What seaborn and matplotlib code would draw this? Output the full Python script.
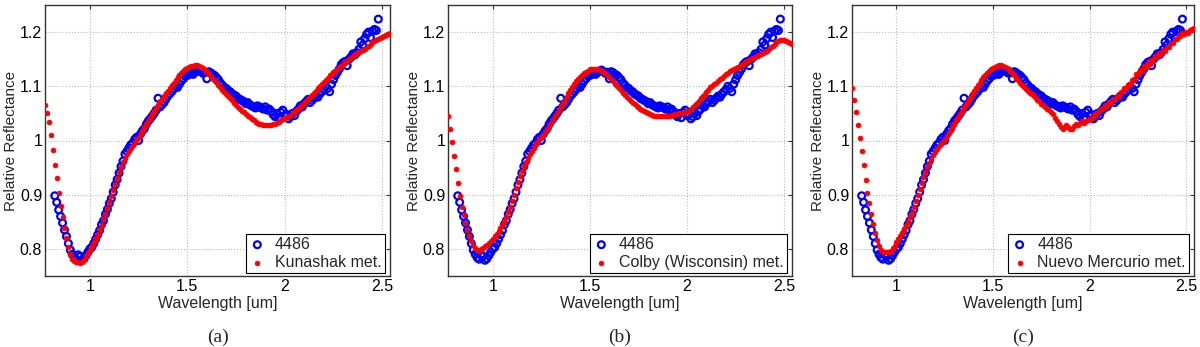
import matplotlib
matplotlib.use("Agg")
import matplotlib.pyplot as plt
from matplotlib.ticker import FuncFormatter
import numpy as np
import pandas as pd
import seaborn as sns

# Asteroid 4486 spectrum (common to all three panels)
wl_4486 = np.round(np.arange(0.82, 2.485, 0.01), 2)
refl_4486 = [
    0.898, 0.886, 0.872, 0.860, 0.848, 0.835, 0.823, 0.810, 0.798, 0.790,
    0.784, 0.781, 0.789, 0.786, 0.779, 0.782, 0.788, 0.794, 0.800, 0.803,
    0.810, 0.818, 0.826, 0.834, 0.845, 0.852, 0.864, 0.873, 0.884, 0.893,
    0.905, 0.918, 0.928, 0.940, 0.952, 0.962, 0.975, 0.980, 0.986, 0.992,
    0.995, 1.002, 1.006, 1.000, 1.012, 1.018, 1.022, 1.030, 1.036, 1.040,
    1.045, 1.050, 1.056, 1.078, 1.062, 1.066, 1.070, 1.076, 1.082, 1.086,
    1.090, 1.095, 1.100, 1.098, 1.104, 1.110, 1.114, 1.118, 1.120, 1.122,
    1.124, 1.122, 1.126, 1.128, 1.130, 1.127, 1.124, 1.126, 1.114, 1.127,
    1.125, 1.122, 1.120, 1.116, 1.112, 1.106, 1.102, 1.098, 1.096, 1.092,
    1.090, 1.086, 1.084, 1.082, 1.078, 1.076, 1.074, 1.072, 1.068, 1.070,
    1.066, 1.064, 1.062, 1.060, 1.064, 1.062, 1.060, 1.058, 1.062, 1.056,
    1.058, 1.054, 1.048, 1.044, 1.050, 1.042, 1.052, 1.056, 1.046, 1.048,
    1.040, 1.044, 1.050, 1.046, 1.054, 1.058, 1.064, 1.062, 1.068, 1.072,
    1.076, 1.070, 1.074, 1.078, 1.082, 1.080, 1.086, 1.090, 1.094, 1.100,
    1.096, 1.090, 1.104, 1.112, 1.120, 1.126, 1.132, 1.140, 1.144, 1.146,
    1.138, 1.150, 1.154, 1.160, 1.158, 1.162, 1.168, 1.182, 1.176, 1.188,
    1.196, 1.200, 1.190, 1.202, 1.205, 1.203, 1.224,
]

# Meteorite spectra
wl_met = np.round(np.arange(0.77, 2.545, 0.01), 2)
refl_kunashak = [
    1.066, 1.051, 1.034, 1.010, 0.982, 0.955, 0.930, 0.904, 0.880, 0.858,
    0.838, 0.820, 0.803, 0.790, 0.782, 0.778, 0.776, 0.775, 0.774, 0.776,
    0.780, 0.786, 0.792, 0.798, 0.805, 0.812, 0.820, 0.828, 0.836, 0.845,
    0.855, 0.865, 0.875, 0.886, 0.897, 0.908, 0.919, 0.930, 0.941, 0.951,
    0.960, 0.968, 0.975, 0.981, 0.987, 0.992, 0.997, 1.002, 1.007, 1.012,
    1.018, 1.024, 1.030, 1.036, 1.042, 1.048, 1.054, 1.060, 1.066, 1.072,
    1.077, 1.082, 1.087, 1.092, 1.097, 1.102, 1.107, 1.112, 1.117, 1.121,
    1.125, 1.128, 1.131, 1.133, 1.135, 1.137, 1.138, 1.139, 1.139, 1.138,
    1.136, 1.133, 1.130, 1.126, 1.122, 1.118, 1.114, 1.110, 1.106, 1.102,
    1.098, 1.094, 1.090, 1.086, 1.082, 1.078, 1.074, 1.070, 1.066, 1.062,
    1.058, 1.055, 1.052, 1.049, 1.046, 1.043, 1.040, 1.037, 1.035, 1.033,
    1.031, 1.030, 1.029, 1.028, 1.028, 1.028, 1.029, 1.030, 1.031, 1.033,
    1.035, 1.037, 1.039, 1.041, 1.043, 1.045, 1.047, 1.050, 1.053, 1.056,
    1.059, 1.062, 1.066, 1.069, 1.073, 1.076, 1.080, 1.084, 1.088, 1.092,
    1.096, 1.100, 1.104, 1.108, 1.112, 1.116, 1.120, 1.123, 1.126, 1.129,
    1.132, 1.135, 1.138, 1.141, 1.144, 1.147, 1.150, 1.153, 1.156, 1.159,
    1.161, 1.163, 1.165, 1.167, 1.169, 1.172, 1.175, 1.178, 1.181, 1.184,
    1.186, 1.188, 1.190, 1.191, 1.193, 1.195, 1.197, 1.198,
]
refl_colby = [
    1.045, 1.022, 0.998, 0.972, 0.948, 0.922, 0.897, 0.878, 0.862, 0.848,
    0.835, 0.824, 0.815, 0.807, 0.801, 0.798, 0.797, 0.799, 0.802, 0.805,
    0.808, 0.811, 0.815, 0.819, 0.823, 0.828, 0.833, 0.838, 0.844, 0.851,
    0.859, 0.868, 0.878, 0.889, 0.900, 0.912, 0.923, 0.934, 0.944, 0.953,
    0.961, 0.968, 0.975, 0.981, 0.987, 0.992, 0.997, 1.002, 1.006, 1.011,
    1.016, 1.021, 1.027, 1.033, 1.039, 1.045, 1.051, 1.057, 1.063, 1.069,
    1.075, 1.081, 1.087, 1.093, 1.099, 1.104, 1.109, 1.113, 1.117, 1.120,
    1.124, 1.127, 1.129, 1.131, 1.132, 1.132, 1.132, 1.131, 1.130, 1.129,
    1.127, 1.124, 1.121, 1.117, 1.113, 1.109, 1.105, 1.101, 1.097, 1.093,
    1.088, 1.084, 1.080, 1.076, 1.073, 1.070, 1.067, 1.064, 1.061, 1.058,
    1.056, 1.054, 1.052, 1.050, 1.048, 1.047, 1.046, 1.045, 1.045, 1.045,
    1.045, 1.045, 1.045, 1.046, 1.046, 1.047, 1.047, 1.048, 1.049, 1.050,
    1.050, 1.051, 1.052, 1.053, 1.055, 1.058, 1.062, 1.066, 1.070, 1.073,
    1.078, 1.082, 1.086, 1.090, 1.094, 1.098, 1.101, 1.104, 1.107, 1.110,
    1.113, 1.116, 1.119, 1.122, 1.125, 1.128, 1.130, 1.132, 1.134, 1.136,
    1.138, 1.140, 1.142, 1.144, 1.146, 1.148, 1.150, 1.152, 1.154, 1.156,
    1.158, 1.160, 1.162, 1.164, 1.166, 1.169, 1.172, 1.175, 1.178, 1.181,
    1.183, 1.185, 1.186, 1.186, 1.184, 1.182, 1.180, 1.178,
]
refl_nuevo = [
    1.097, 1.075, 1.052, 1.028, 1.004, 0.980, 0.955, 0.928, 0.904, 0.885,
    0.865, 0.846, 0.830, 0.816, 0.805, 0.798, 0.795, 0.794, 0.794, 0.794,
    0.796, 0.801, 0.806, 0.812, 0.818, 0.824, 0.830, 0.836, 0.843, 0.850,
    0.858, 0.867, 0.877, 0.888, 0.899, 0.910, 0.921, 0.932, 0.942, 0.951,
    0.959, 0.966, 0.973, 0.979, 0.984, 0.989, 0.994, 0.998, 1.003, 1.008,
    1.013, 1.019, 1.025, 1.031, 1.037, 1.043, 1.049, 1.055, 1.061, 1.067,
    1.073, 1.079, 1.085, 1.091, 1.097, 1.102, 1.107, 1.112, 1.117, 1.121,
    1.125, 1.128, 1.131, 1.134, 1.136, 1.138, 1.140, 1.139, 1.137, 1.136,
    1.134, 1.131, 1.128, 1.124, 1.120, 1.115, 1.111, 1.106, 1.102, 1.098,
    1.095, 1.092, 1.088, 1.085, 1.082, 1.078, 1.075, 1.072, 1.068, 1.065,
    1.062, 1.059, 1.056, 1.052, 1.048, 1.042, 1.036, 1.030, 1.025, 1.021,
    1.024, 1.028, 1.025, 1.021, 1.022, 1.026, 1.030, 1.028, 1.032, 1.036,
    1.033, 1.036, 1.038, 1.040, 1.042, 1.045, 1.048, 1.051, 1.055, 1.058,
    1.060, 1.065, 1.064, 1.071, 1.070, 1.077, 1.076, 1.083, 1.082, 1.089,
    1.091, 1.097, 1.096, 1.103, 1.104, 1.112, 1.113, 1.122, 1.122, 1.130,
    1.129, 1.137, 1.136, 1.143, 1.142, 1.149, 1.148, 1.155, 1.154, 1.161,
    1.160, 1.167, 1.166, 1.173, 1.172, 1.180, 1.180, 1.188, 1.187, 1.195,
    1.193, 1.199, 1.196, 1.201, 1.199, 1.204, 1.205, 1.208,
]

met_names = ["Kunashak met.", "Colby (Wisconsin) met.", "Nuevo Mercurio met."]
met_refl = [refl_kunashak, refl_colby, refl_nuevo]
captions = ["(a)", "(b)", "(c)"]

sns.set_theme(style="whitegrid")
plt.rcParams["font.family"] = ["Liberation Sans", "DejaVu Sans"]

fig, axes = plt.subplots(1, 3, figsize=(12, 3.47), dpi=100)

# axes boxes in pixels (left, right) of the reference; all share top/bottom
boxes = [(45, 390), (448, 792), (852, 1194)]
top_px, bottom_px = 5, 276
W, H = 1200, 347

df_ast = pd.DataFrame({"wl": wl_4486, "r": refl_4486})

for ax, (l, r), name, refl, cap in zip(axes, boxes, met_names, met_refl, captions):
    ax.set_position([l / W, 1 - bottom_px / H, (r - l) / W, (bottom_px - top_px) / H])
    df_met = pd.DataFrame({"wl": wl_met, "r": refl})

    sns.scatterplot(data=df_ast, x="wl", y="r", ax=ax, marker="o", s=24,
                    facecolor="none", edgecolor="#0000ff", linewidth=1.6,
                    label="4486", zorder=3)
    sns.scatterplot(data=df_met, x="wl", y="r", ax=ax, marker="o", s=13,
                    color="#ff0000", edgecolor="#ff0000", linewidth=0.4,
                    label=name, zorder=4)

    ax.set_xlim(0.77, 2.54)
    ax.set_ylim(0.75, 1.25)
    ax.set_xticks([1, 1.5, 2, 2.5])
    ax.set_yticks([0.8, 0.9, 1.0, 1.1, 1.2])
    fmt = FuncFormatter(lambda v, p: "%g" % v)
    ax.xaxis.set_major_formatter(fmt)
    ax.yaxis.set_major_formatter(fmt)
    ax.grid(True, linestyle=":", color="#bbbbbb", linewidth=0.8)
    ax.set_facecolor("white")
    for sp in ax.spines.values():
        sp.set_color("#333333")
        sp.set_linewidth(1.0)
    ax.tick_params(direction="in", length=3, width=0.8, top=True, right=True,
                   labelsize=11.5, pad=2, colors="#333333", labelcolor="black")
    ax.set_xlabel("Wavelength [um]", fontsize=11.5, labelpad=1.5)
    ax.set_ylabel("Relative Reflectance", fontsize=11, labelpad=1)

    leg = ax.legend(loc="lower right", bbox_to_anchor=(0.985, 0.01), fontsize=11.5,
                    frameon=True, fancybox=False, framealpha=1, edgecolor="black",
                    borderpad=0.2, labelspacing=0.2, handlelength=1.0,
                    handletextpad=0.6, borderaxespad=0.0)
    leg.get_frame().set_linewidth(0.8)

    fig.text((l + r) / 2 / W, 1 - 337 / H, cap, ha="center", va="center",
             fontsize=14, family=["Liberation Serif", "DejaVu Serif"])

plt.savefig("out.png", dpi=100)
